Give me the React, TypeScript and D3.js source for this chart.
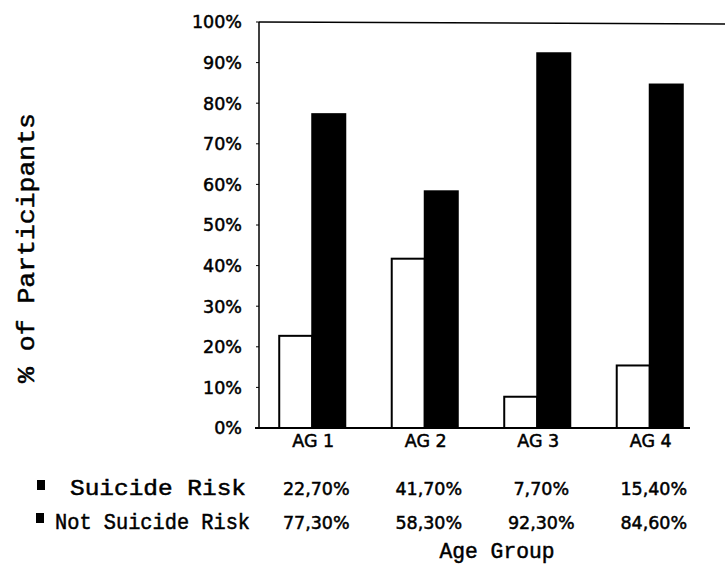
import { scaleBand, scaleLinear, range } from "d3";

const categories = ["AG 1", "AG 2", "AG 3", "AG 4"];
const seriesNames = ["Suicide Risk", "Not Suicide Risk"];
const suicideRisk = [22.7, 41.7, 7.7, 15.4];
const notSuicideRisk = [77.3, 58.3, 92.3, 84.6];
const yTicks = range(0, 101, 10);

const width = 725;
const height = 577;

const MARGIN = { left: 259, top: 22, bottom: 149 };

const fmtPct = (v: number) => v.toFixed(2).replace(".", ",") + "%";

const App = () => {
  const boundsBottom = height - MARGIN.bottom;

  const x = scaleBand<string>()
    .domain(categories)
    .range([256, 706])
    .paddingInner(0.413)
    .paddingOuter(0.2065);

  const xSub = scaleBand<string>()
    .domain(seriesNames)
    .range([0, x.bandwidth()]);

  const y = scaleLinear().domain([0, 100]).range([boundsBottom, MARGIN.top]);

  const series = [suicideRisk, notSuicideRisk];
  const tickFont = "'DejaVu Sans', Arial, sans-serif";
  const monoFont = "'Liberation Mono', 'Courier New', monospace";

  // legend tweaks
  const legendBox = [{ x: 37, y: 480 }, { x: 36, y: 513 }];
  const legendText = [{ x: 70, len: 176 }, { x: 55, len: 195 }];
  const rowY = [495, 529];

  return (
    <svg
      width={width}
      height={height}
      style={{ position: "absolute", left: 0, top: 0, background: "white" }}
    >
      {/* frame */}
      <line x1={MARGIN.left} x2={MARGIN.left} y1={MARGIN.top} y2={boundsBottom} stroke="black" strokeWidth={1.5} />
      <line x1={MARGIN.left} x2={width} y1={MARGIN.top} y2={MARGIN.top + 2} stroke="black" strokeWidth={1.5} />
      <line x1={MARGIN.left - 4} x2={690} y1={boundsBottom} y2={boundsBottom} stroke="black" strokeWidth={2} />

      {/* y axis ticks */}
      {yTicks.map((t) => (
        <g key={t} transform={`translate(0, ${y(t)})`}>
          <line x1={MARGIN.left - 3} x2={MARGIN.left} stroke="black" />
          <text
            x={242}
            dy="0.36em"
            textAnchor="end"
            fontFamily={tickFont}
            fontSize={17.5}
            stroke="black"
            strokeWidth={0.5}
          >
            {t}%
          </text>
        </g>
      ))}

      {/* bars */}
      {categories.map((c, i) => (
        <g key={c} transform={`translate(${x(c)}, 0)`}>
          {series.map((s, j) => (
            <rect
              key={j}
              x={xSub(seriesNames[j])}
              y={y(s[i])}
              width={xSub.bandwidth()}
              height={y(0) - y(s[i])}
              fill={j === 0 ? "white" : "black"}
              stroke="black"
              strokeWidth={2}
            />
          ))}
          <text
            x={x.bandwidth() / 2 + 1}
            y={boundsBottom + 19}
            textAnchor="middle"
            fontFamily={tickFont}
            fontSize={17.5}
            stroke="black"
            strokeWidth={0.5}
          >
            {c}
          </text>
        </g>
      ))}

      {/* data table */}
      {series.map((s, j) => (
        <g key={j}>
          <rect x={legendBox[j].x} y={legendBox[j].y} width={8} height={10} fill="black" />
          <text
            x={legendText[j].x}
            y={rowY[j]}
            fontFamily={monoFont}
            fontSize={22}
            stroke="black"
            strokeWidth={0.5}
            textLength={legendText[j].len}
            lengthAdjust="spacingAndGlyphs"
          >
            {seriesNames[j]}
          </text>
          {categories.map((c, i) => (
            <text
              key={c}
              x={(x(c) as number) + x.bandwidth() / 2 + 4}
              y={rowY[j]}
              textAnchor="middle"
              fontFamily={tickFont}
              fontSize={17.5}
              stroke="black"
              strokeWidth={0.5}
            >
              {fmtPct(s[i])}
            </text>
          ))}
        </g>
      ))}

      {/* axis titles */}
      <text
        x={497}
        y={558}
        textAnchor="middle"
        fontFamily={monoFont}
        fontSize={22}
        stroke="black"
        strokeWidth={0.5}
        textLength={115}
        lengthAdjust="spacingAndGlyphs"
      >
        Age Group
      </text>
      <text
        transform={`translate(34, 248) rotate(-90)`}
        textAnchor="middle"
        fontFamily={monoFont}
        fontSize={23}
        stroke="black"
        strokeWidth={0.5}
        textLength={270}
        lengthAdjust="spacingAndGlyphs"
      >
        % of Participants
      </text>
    </svg>
  );
};

export default App;
